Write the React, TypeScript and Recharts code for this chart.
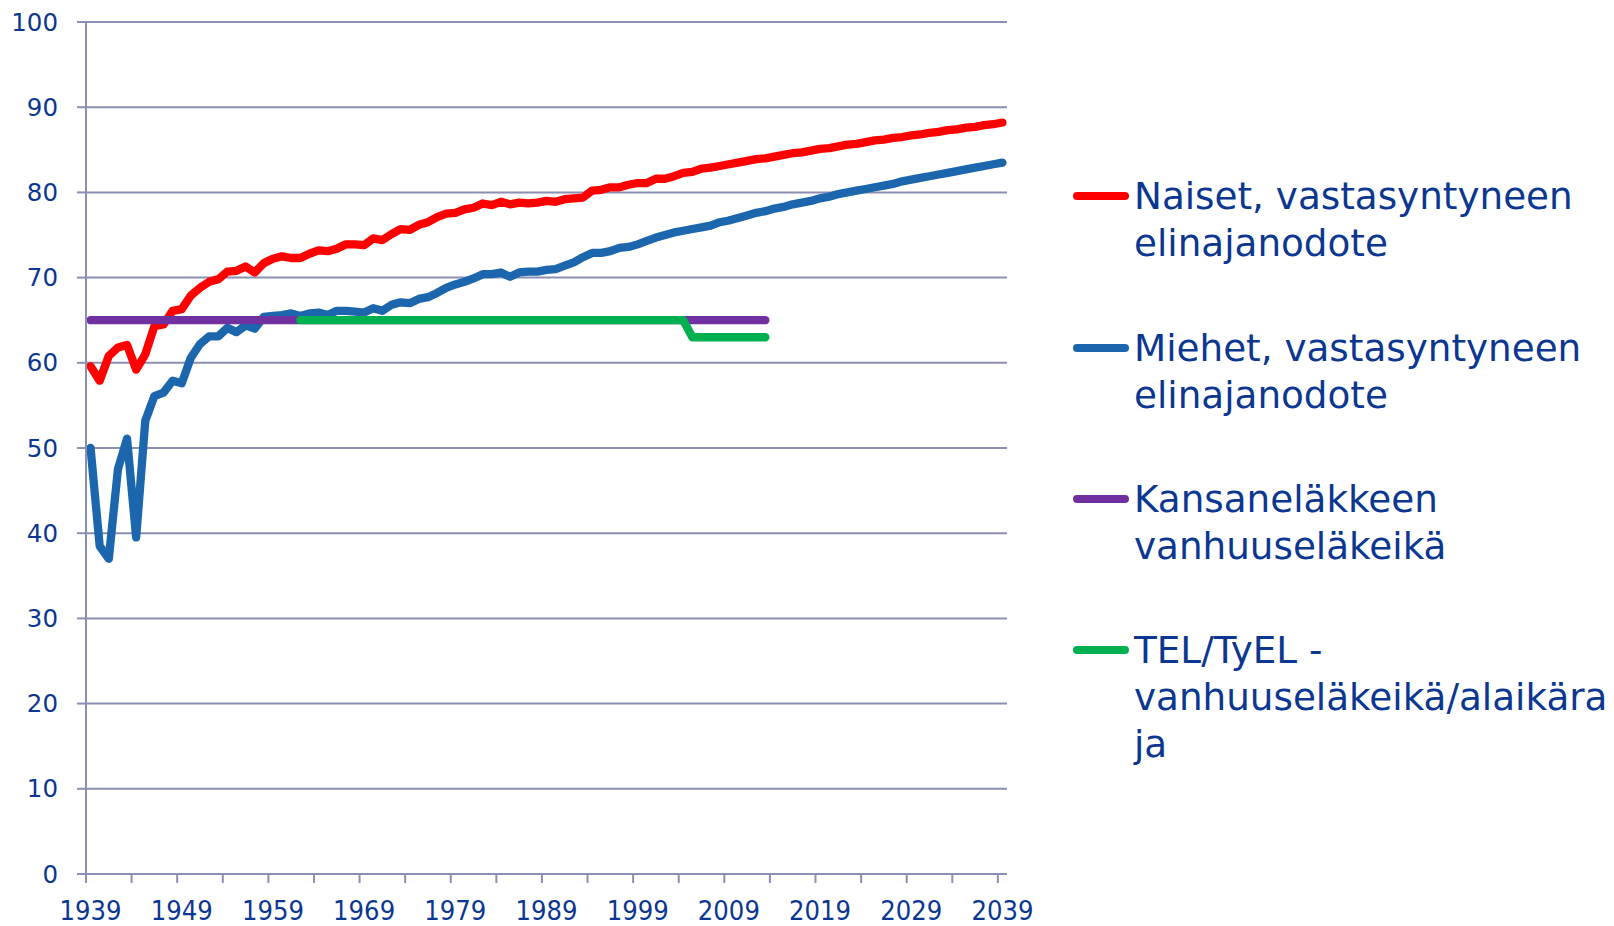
import React from 'react';
import { LineChart, Line, XAxis, YAxis, CartesianGrid, Legend } from 'recharts';

// ---- data ----
const years = [
  1939,
  1940, 1941, 1942, 1943, 1944, 1945, 1946, 1947, 1948, 1949,
  1950, 1951, 1952, 1953, 1954, 1955, 1956, 1957, 1958, 1959,
  1960, 1961, 1962, 1963, 1964, 1965, 1966, 1967, 1968, 1969,
  1970, 1971, 1972, 1973, 1974, 1975, 1976, 1977, 1978, 1979,
  1980, 1981, 1982, 1983, 1984, 1985, 1986, 1987, 1988, 1989,
  1990, 1991, 1992, 1993, 1994, 1995, 1996, 1997, 1998, 1999,
  2000, 2001, 2002, 2003, 2004, 2005, 2006, 2007, 2008, 2009,
  2010, 2011, 2012, 2013, 2014, 2015, 2016, 2017, 2018, 2019,
  2020, 2021, 2022, 2023, 2024, 2025, 2026, 2027, 2028, 2029,
  2030, 2031, 2032, 2033, 2034, 2035, 2036, 2037, 2038, 2039,
];

const naiset = [
  59.6,
  57.9, 60.8, 61.8, 62.1, 59.2, 61.0, 64.3, 64.5, 66.1, 66.3,
  67.9, 68.8, 69.5, 69.8, 70.7, 70.8, 71.3, 70.6, 71.7, 72.2,
  72.5, 72.3, 72.3, 72.8, 73.2, 73.1, 73.4, 73.9, 73.9, 73.8,
  74.6, 74.4, 75.1, 75.7, 75.6, 76.2, 76.5, 77.1, 77.5, 77.6,
  78.0, 78.2, 78.7, 78.5, 78.9, 78.6, 78.8, 78.7, 78.8, 79.0,
  78.9, 79.2, 79.3, 79.4, 80.2, 80.3, 80.6, 80.6, 80.9, 81.1,
  81.1, 81.6, 81.6, 81.9, 82.3, 82.4, 82.8, 82.9, 83.1, 83.3,
  83.5, 83.7, 83.9, 84.0, 84.2, 84.4, 84.6, 84.7, 84.9, 85.1,
  85.2, 85.4, 85.6, 85.7, 85.9, 86.1, 86.2, 86.4, 86.5, 86.7,
  86.8, 87.0, 87.1, 87.3, 87.4, 87.6, 87.7, 87.9, 88.0, 88.2,
];

const miehet = [
  50.0,
  38.5, 37.0, 47.5, 51.1, 39.5, 53.2, 56.1, 56.5, 57.9, 57.6,
  60.6, 62.2, 63.1, 63.1, 64.1, 63.6, 64.4, 64.0, 65.4, 65.5,
  65.6, 65.8, 65.5, 65.8, 65.9, 65.6, 66.1, 66.1, 66.0, 65.9,
  66.4, 66.1, 66.8, 67.1, 67.0, 67.5, 67.7, 68.2, 68.8, 69.2,
  69.5, 69.9, 70.4, 70.4, 70.6, 70.1, 70.6, 70.7, 70.7, 70.9,
  71.0, 71.4, 71.8, 72.4, 72.9, 72.9, 73.1, 73.5, 73.6, 73.9,
  74.3, 74.7, 75.0, 75.3, 75.5, 75.7, 75.9, 76.1, 76.5, 76.7,
  77.0, 77.3, 77.6, 77.8, 78.1, 78.3, 78.6, 78.8, 79.0, 79.3,
  79.5, 79.8, 80.0, 80.2, 80.4, 80.6, 80.8, 81.0, 81.3, 81.5,
  81.7, 81.9, 82.1, 82.3, 82.5, 82.7, 82.9, 83.1, 83.3, 83.5,
];

const kansanelake = [
  65,
  65, 65, 65, 65, 65, 65, 65, 65, 65, 65,
  65, 65, 65, 65, 65, 65, 65, 65, 65, 65,
  65, 65, 65, 65, 65, 65, 65, 65, 65, 65,
  65, 65, 65, 65, 65, 65, 65, 65, 65, 65,
  65, 65, 65, 65, 65, 65, 65, 65, 65, 65,
  65, 65, 65, 65, 65, 65, 65, 65, 65, 65,
  65, 65, 65, 65, 65, 65, 65, 65, 65, 65,
  65, 65, 65, 65, null, null, null, null, null, null,
  null, null, null, null, null, null, null, null, null, null,
  null, null, null, null, null, null, null, null, null, null,
];

const tyel = [
  null,
  null, null, null, null, null, null, null, null, null, null,
  null, null, null, null, null, null, null, null, null, null,
  null, null, 65, 65, 65, 65, 65, 65, 65, 65,
  65, 65, 65, 65, 65, 65, 65, 65, 65, 65,
  65, 65, 65, 65, 65, 65, 65, 65, 65, 65,
  65, 65, 65, 65, 65, 65, 65, 65, 65, 65,
  65, 65, 65, 65, 65, 63, 63, 63, 63, 63,
  63, 63, 63, 63, null, null, null, null, null, null,
  null, null, null, null, null, null, null, null, null, null,
  null, null, null, null, null, null, null, null, null, null,
];

const yTicks = [0, 10, 20, 30, 40, 50, 60, 70, 80, 90, 100];
const xLabelYears = [1939, 1949, 1959, 1969, 1979, 1989, 1999, 2009, 2019, 2029, 2039];
const xTickMarks = [
  1938.5, 1943.5, 1948.5, 1953.5, 1958.5, 1963.5, 1968.5, 1973.5, 1978.5, 1983.5, 1988.5,
  1993.5, 1998.5, 2003.5, 2008.5, 2013.5, 2018.5, 2023.5, 2028.5, 2033.5, 2038.5,
];

const seriesKeys = ['naiset', 'miehet', 'kansanelake', 'tyel'];
const seriesNames = [
  'Naiset, vastasyntyneen elinajanodote',
  'Miehet, vastasyntyneen elinajanodote',
  'Kansaneläkkeen vanhuuseläkeikä',
  'TEL/TyEL - vanhuuseläkeikä/alaikäraja',
];
const legendLines = [
  ['Naiset, vastasyntyneen', 'elinajanodote'],
  ['Miehet, vastasyntyneen', 'elinajanodote'],
  ['Kansaneläkkeen', 'vanhuuseläkeikä'],
  ['TEL/TyEL -', 'vanhuuseläkeikä/alaikära', 'ja'],
];
const seriesColors = ['#ff0000', '#1c66ae', '#7030a0', '#00b050'];

// ---- styles / layout ----
const TEXT = '#0c3790';
const GRID = '#8b8fb1';
const FONT = 'DejaVu Sans, Verdana, sans-serif';
const legendCenters = [195.5, 347.5, 499, 649.5];

const data = years.map((year, i) => ({
  year,
  naiset: naiset[i],
  miehet: miehet[i],
  kansanelake: kansanelake[i],
  tyel: tyel[i],
}));

const allXTicks = [...xTickMarks, ...xLabelYears].sort((a, b) => a - b);

const renderXTick = (props: any) => {
  const { x, y, payload } = props;
  const v = payload.value;
  if (xLabelYears.includes(v)) {
    return (
      <text
        x={0}
        y={0}
        transform={`translate(${x},${y + 45.5}) scale(0.92,1)`}
        textAnchor="middle"
        fill={TEXT}
        fontSize={26.5}
        fontFamily={FONT}
      >
        {v}
      </text>
    );
  }
  return <line x1={x} x2={x} y1={y} y2={y + 9} stroke={GRID} strokeWidth={2} />;
};

const renderLegend = (props: any) => {
  const { payload } = props;
  return (
    <div style={{ position: 'relative', width: 1614, height: 926 }}>
      {(payload || []).map((entry: any, i: number) => {
        const idx = seriesNames.indexOf(entry.value);
        const lines = legendLines[idx];
        const cy = legendCenters[idx];
        return (
          <div key={i}>
            <div
              style={{
                position: 'absolute',
                left: 1073,
                top: cy - 4,
                width: 56,
                height: 8,
                borderRadius: 4,
                background: seriesColors[idx],
              }}
            />
            <div
              style={{
                position: 'absolute',
                left: 1134,
                top: cy - 23,
                fontSize: 37.3,
                lineHeight: '47px',
                color: TEXT,
                fontFamily: FONT,
                whiteSpace: 'pre',
              }}
            >
              {lines.map((l, j) => (
                <div key={j}>{l}</div>
              ))}
            </div>
          </div>
        );
      })}
    </div>
  );
};

export default function App() {
  return (
    <div style={{ position: 'absolute', left: 0, top: 0, width: 1614, height: 926, background: '#fff' }}>
      <LineChart
        width={1614}
        height={926}
        data={data}
        margin={{ top: 22, right: 607, bottom: 0, left: 0 }}
      >
        <CartesianGrid vertical={false} stroke={GRID} strokeWidth={2} />
        <XAxis
          dataKey="year"
          type="number"
          domain={[1938.5, 2039.5]}
          ticks={allXTicks}
          interval={0}
          tick={renderXTick}
          tickLine={false}
          tickSize={0}
          tickMargin={0}
          height={52}
          axisLine={{ stroke: GRID, strokeWidth: 2 }}
        />
        <YAxis
          type="number"
          domain={[0, 100]}
          ticks={yTicks}
          interval={0}
          width={86}
          tickSize={9}
          tickMargin={19}
          tick={{ fill: TEXT, fontSize: 24.5, fontFamily: FONT }}
          tickLine={{ stroke: GRID, strokeWidth: 2 }}
          axisLine={{ stroke: GRID, strokeWidth: 2 }}
        />
        <Legend
          layout="horizontal"
          verticalAlign="middle"
          align="center"
          content={renderLegend}
          wrapperStyle={{ left: 0, top: 0, width: 1614, height: 926, pointerEvents: 'none' }}
        />
        {seriesKeys.map((k, i) => (
          <Line
            key={k}
            type="linear"
            dataKey={k}
            name={seriesNames[i]}
            stroke={seriesColors[i]}
            strokeWidth={8.3}
            strokeLinecap="round"
            strokeLinejoin="round"
            dot={false}
            activeDot={false}
            isAnimationActive={false}
          />
        ))}
      </LineChart>
    </div>
  );
}
